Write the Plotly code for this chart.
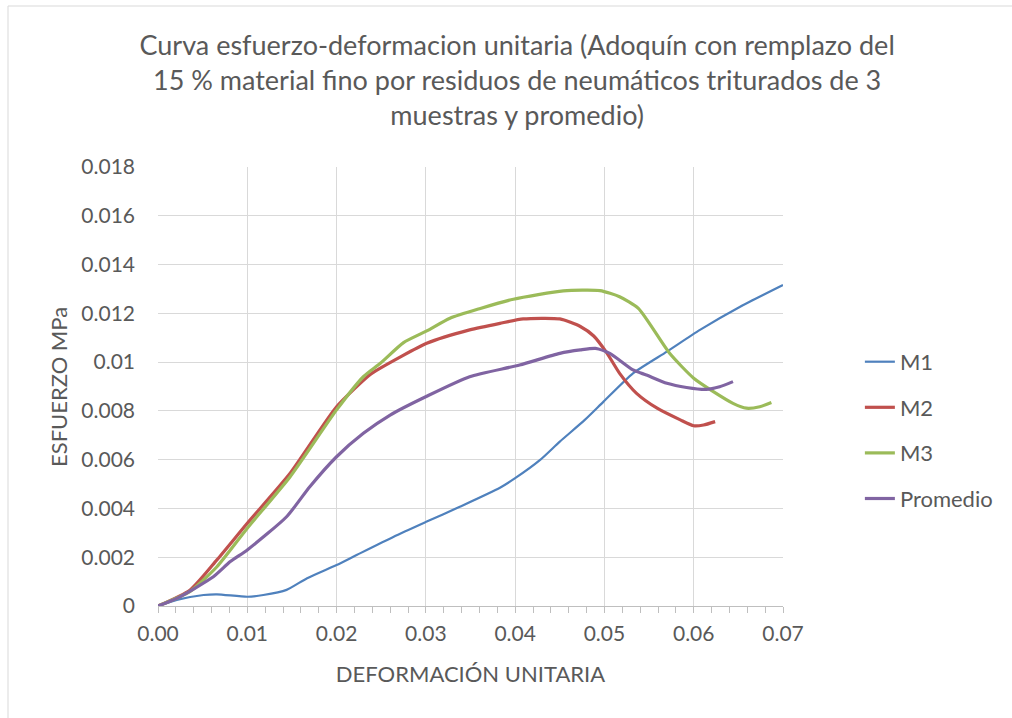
import plotly.graph_objects as go

# Stress-strain readings for the three specimens and their average
m1_strain = [0.0, 0.0021, 0.0051, 0.0066, 0.0100, 0.0118, 0.0144, 0.0167, 0.0200, 0.0223,
             0.0264, 0.0301, 0.0338, 0.0383, 0.0400, 0.0428, 0.0450, 0.0478, 0.0499,
             0.0532, 0.0570, 0.0607, 0.0652, 0.0700]
m1_stress = [0.0, 0.00025, 0.00045, 0.00048, 0.00038, 0.00045, 0.00066, 0.00114, 0.00168, 0.0021,
             0.00284, 0.00346, 0.00407, 0.00485, 0.00524, 0.00599, 0.00674, 0.00763, 0.00838,
             0.00954, 0.01043, 0.01132, 0.01227, 0.01316]

m2_strain = [0.0, 0.0036, 0.0066, 0.0100, 0.0148, 0.0200, 0.0237, 0.0249, 0.0301, 0.0349,
             0.0383, 0.0409, 0.0450, 0.0473, 0.0488, 0.0503, 0.0517, 0.0536, 0.0559,
             0.0585, 0.0600, 0.0611, 0.0624]
m2_stress = [0.0, 0.00066, 0.00189, 0.00339, 0.00544, 0.00817, 0.00947, 0.00975, 0.01077, 0.01132,
             0.01159, 0.01177, 0.01177, 0.01146, 0.01107, 0.01036, 0.00954, 0.00872, 0.00811,
             0.00763, 0.00739, 0.00742, 0.00756]

m3_strain = [0.0, 0.0036, 0.0066, 0.0100, 0.0148, 0.0200, 0.0230, 0.0249, 0.0275, 0.0301,
             0.0327, 0.0361, 0.0398, 0.0454, 0.0495, 0.0517, 0.0538, 0.0573, 0.0600,
             0.0622, 0.0644, 0.0659, 0.0674, 0.0687]
m3_stress = [0.0, 0.0006, 0.00161, 0.00319, 0.0053, 0.00804, 0.0094, 0.00995, 0.0108, 0.01128,
             0.0118, 0.0122, 0.01258, 0.01292, 0.01293, 0.01268, 0.0122, 0.01036, 0.00934,
             0.00879, 0.00831, 0.00811, 0.00817, 0.00834]

avg_strain = [0.0, 0.0021, 0.0062, 0.0081, 0.0100, 0.0144, 0.0170, 0.0200, 0.0230, 0.0260,
              0.0301, 0.0349, 0.0405, 0.0450, 0.0473, 0.0490, 0.0506, 0.0532, 0.0547,
              0.0570, 0.0592, 0.0614, 0.0629, 0.0644]
avg_stress = [0.0, 0.00031, 0.0012, 0.00182, 0.0023, 0.00366, 0.00489, 0.00612, 0.00708, 0.00783,
              0.0086, 0.0094, 0.00988, 0.01036, 0.0105, 0.01056, 0.01036, 0.00968, 0.00947,
              0.00913, 0.00896, 0.00888, 0.00899, 0.0092]

series_names = ["M1", "M2", "M3", "Promedio"]
series_colors = ["#4F81BD", "#C0504D", "#9BBB59", "#8064A2"]

y_tick_values = [0, 0.002, 0.004, 0.006, 0.008, 0.01, 0.012, 0.014, 0.016, 0.018]
y_tick_labels = ["0", "0.002", "0.004", "0.006", "0.008", "0.01", "0.012", "0.014", "0.016", "0.018"]

TEXT = "#595959"
GRID = "#D9D9D9"
FONT = "Lato, 'Open Sans', sans-serif"

fig = go.Figure()
data = [(m1_strain, m1_stress), (m2_strain, m2_stress), (m3_strain, m3_stress), (avg_strain, avg_stress)]
widths = [2.2, 3.2, 3.2, 3.2]
for (xs, ys), name, color, w in zip(data, series_names, series_colors, widths):
    fig.add_trace(go.Scatter(
        x=xs, y=ys, name=name, mode="lines", legendgroup=name,
        line=dict(color=color, width=w, shape="spline", smoothing=0.6),
    ))

# plot-area geometry in pixels, used for placing the border and axis title in paper units
L, R, T, B = 158, 783, 167, 606
W, H = R - L, B - T

def px_x(p):
    return (p - L) / W

def px_y(p):
    return (B - p) / H

fig.update_layout(
    width=1012, height=718,
    margin=dict(l=L, r=1012 - R, t=T, b=718 - B),
    paper_bgcolor="white", plot_bgcolor="white",
    font=dict(family=FONT, color=TEXT, size=22),
    title=dict(
        text="Curva esfuerzo-deformacion unitaria (Adoquín con remplazo del<br>"
             "15 % material fino por residuos de neumáticos triturados de 3<br>"
             "muestras y promedio)",
        x=0.511, xanchor="center", y=0.923, yanchor="top",
        font=dict(size=27, color=TEXT, family=FONT),
    ),
    xaxis=dict(
        range=[0, 0.07], dtick=0.01, tick0=0, tickformat=".2f",
        showgrid=True, gridcolor=GRID, gridwidth=1,
        showline=True, linecolor="#BFBFBF", linewidth=1,
        ticks="outside", ticklen=6, tickcolor="#BFBFBF",
        minor=dict(dtick=0.002, ticks="outside", ticklen=6, tickcolor="#BFBFBF", showgrid=False),
        zeroline=False, ticklabelstandoff=3,
        title=dict(text="DEFORMACIÓN UNITARIA", font=dict(size=22, color=TEXT), standoff=22),
        tickfont=dict(size=21, color=TEXT),
    ),
    yaxis=dict(
        range=[0, 0.018], tickvals=y_tick_values, ticktext=y_tick_labels,
        showgrid=True, gridcolor=GRID, gridwidth=1,
        showline=False, zeroline=False, ticks="",
        ticklabelstandoff=22,
        tickfont=dict(size=21, color=TEXT),
    ),
    legend=dict(
        x=1.123, y=0.40, xanchor="left", yanchor="middle",
        font=dict(size=22, color=TEXT), tracegroupgap=14,
        bgcolor="rgba(0,0,0,0)",
    ),
    showlegend=True,
)

# vertical axis title
fig.add_annotation(
    text="ESFUERZO MPa", textangle=-90, showarrow=False,
    xref="paper", yref="paper", x=px_x(58), y=px_y(387),
    xanchor="center", yanchor="middle",
    font=dict(size=22, color=TEXT),
)

# outer chart border
fig.add_shape(type="rect", xref="paper", yref="paper",
              x0=px_x(8), x1=px_x(1030), y0=px_y(740), y1=px_y(6),
              line=dict(color=GRID, width=1), fillcolor="rgba(0,0,0,0)", layer="below")

fig.write_html("out.html")
